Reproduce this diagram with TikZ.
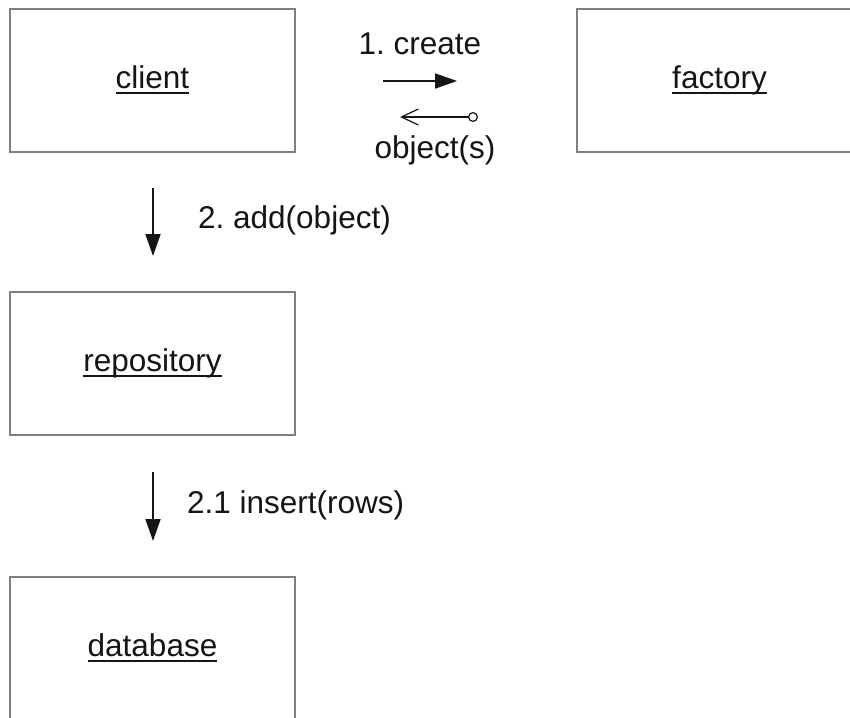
\documentclass[tikz,border=0pt]{standalone}
\usepackage{fontspec}
\setmainfont{Liberation Sans}
\usetikzlibrary{arrows.meta}
\frenchspacing
\newcommand\ulword[1]{\setbox0=\hbox{#1}\rlap{\vrule height -3.5pt depth 5.5pt width \wd0}\box0}
\definecolor{boxgray}{HTML}{7F7F7F}
\definecolor{ink}{HTML}{151515}
\tikzset{
  obj/.style={draw=boxgray, line width=2.2pt, minimum width=285pt, minimum height=143pt,
    inner sep=0pt, text height=22pt, text depth=6pt, text=ink,
    font=\fontsize{31.5}{37}\selectfont},
  msg/.style={text=ink, font=\fontsize{31.5}{37}\selectfont, inner sep=0pt},
  call/.style={draw=ink, line width=1.8pt, -{Triangle[length=22pt,width=15pt]}},
  ret/.style={draw=ink, line width=1.2pt, {Straight Barb[length=17pt,width=16pt,line width=1.2pt]}-{Circle[open,length=10pt,width=10pt,line width=1.2pt]}},
}
\begin{document}
\begin{tikzpicture}[x=1pt,y=-1pt]
\clip (0,0) rectangle (850,717);
\fill[white] (0,0) rectangle (850,717);
\node[obj] (client) at (152.5,80.5) {\ulword{client}};
\node[obj] (factory) at (719.5,80.5) {\ulword{factory}};
\node[obj] (repository) at (152.5,363.5) {\ulword{repository}};
\node[obj] (database) at (152.5,648.5) {\ulword{database}};

\coordinate (c1s) at (383,81);
\coordinate (c1e) at (457,81);
\draw[call] (c1s) -- (c1e);
\node[msg, anchor=base] (lcreate) at (420,55) {1. create};

\coordinate (r1s) at (400,117);
\coordinate (r1e) at (478,117);
\draw[ret] (r1s) -- (r1e);
\node[msg, anchor=base] (lobj) at (435,158) {object(s)};

\coordinate (a1s) at (153,188);
\coordinate (a1e) at (153,256);
\draw[call] (a1s) -- (a1e);
\node[msg, anchor=base west] (ladd) at (198,228) {2. add(object)};

\coordinate (a2s) at (153,472);
\coordinate (a2e) at (153,541);
\draw[call] (a2s) -- (a2e);
\node[msg, anchor=base west] (lins) at (187,513) {2.1 insert(rows)};
\end{tikzpicture}
\end{document}
